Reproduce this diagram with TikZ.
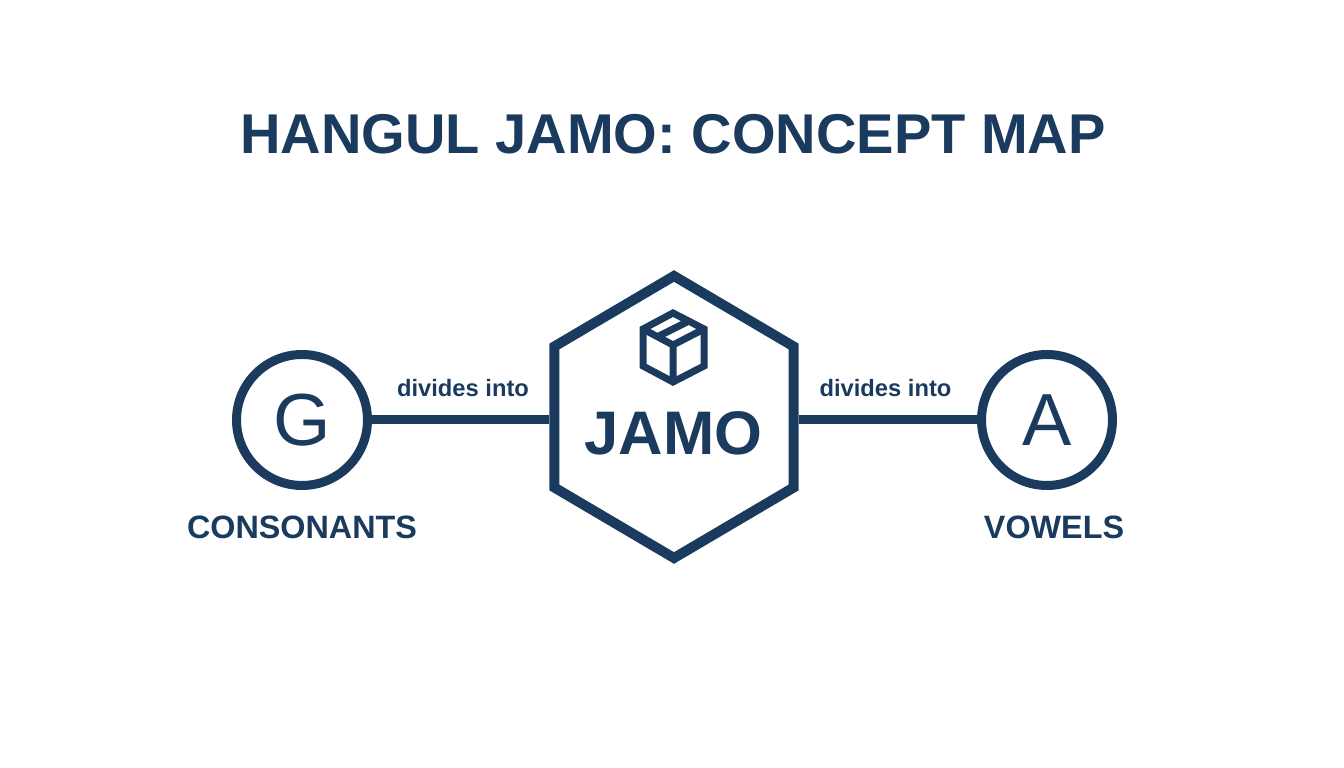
\documentclass[tikz,border=0pt]{standalone}
\usepackage{fontspec}
\setmainfont{Liberation Sans}
\usetikzlibrary{shapes.geometric}
\definecolor{jamoblue}{HTML}{1A3A5E}
\begin{document}
\begin{tikzpicture}
	\tikzset{letter circle/.style={draw=jamoblue,circle,line width=0.09cm,minimum width=1.31cm,inner sep=0pt,text=jamoblue,font=\fontsize{21pt}{24pt}\selectfont}}
	\tikzset{jamo hex/.style={draw=jamoblue,regular polygon,regular polygon sides=6,shape border rotate=30,line width=0.1cm,minimum size=2.82cm,inner sep=0pt,xscale=0.98,transform shape}}
	\tikzset{link/.style={draw=jamoblue,line width=0.09cm}}
	\tikzset{caption/.style={text=jamoblue,font=\bfseries\fontsize{9.2pt}{11pt}\selectfont,inner sep=0pt}}
	\tikzset{link label/.style={text=jamoblue,font=\bfseries\fontsize{6.75pt}{8pt}\selectfont,inner sep=0pt}}

	\useasboundingbox (0,0) rectangle (13.44,7.68);

	\node [text=jamoblue,font=\bfseries\fontsize{15.95pt}{20pt}\selectfont,inner sep=0pt] (title) at (6.73,6.34) {HANGUL JAMO: CONCEPT MAP};

	\node [jamo hex] (J) at (6.74,3.51) {};
	\node [letter circle] (G) at (3.02,3.48) {G};
	\node [letter circle] (A) at (10.47,3.48) {A};

	\draw [link] (G) -- (G -| J.west);
	\draw [link] (A) -- (A -| J.east);

	\node [text=jamoblue,font=\bfseries\fontsize{17.5pt}{20pt}\selectfont,inner sep=0pt] (jamo) at (6.735,3.35) {JAMO};
	\node [link label] (left label) at (4.63,3.80) {divides into};
	\node [link label] (right label) at (8.855,3.80) {divides into};
	\node [caption] (consonants) at (3.02,2.41) {CONSONANTS};
	\node [caption] (vowels) at (10.54,2.41) {VOWELS};

	% box icon
	\draw [jamoblue,line width=0.07cm,line join=miter]
		(6.73,4.55) -- (7.04,4.39) -- (7.04,4.02) -- (6.73,3.86) -- (6.43,4.02) -- (6.43,4.39) -- cycle
		(6.43,4.39) -- (6.73,4.23) -- (7.04,4.39)
		(6.73,4.23) -- (6.73,3.86)
		(6.57,4.31) -- (6.89,4.47);
\end{tikzpicture}
\end{document}
